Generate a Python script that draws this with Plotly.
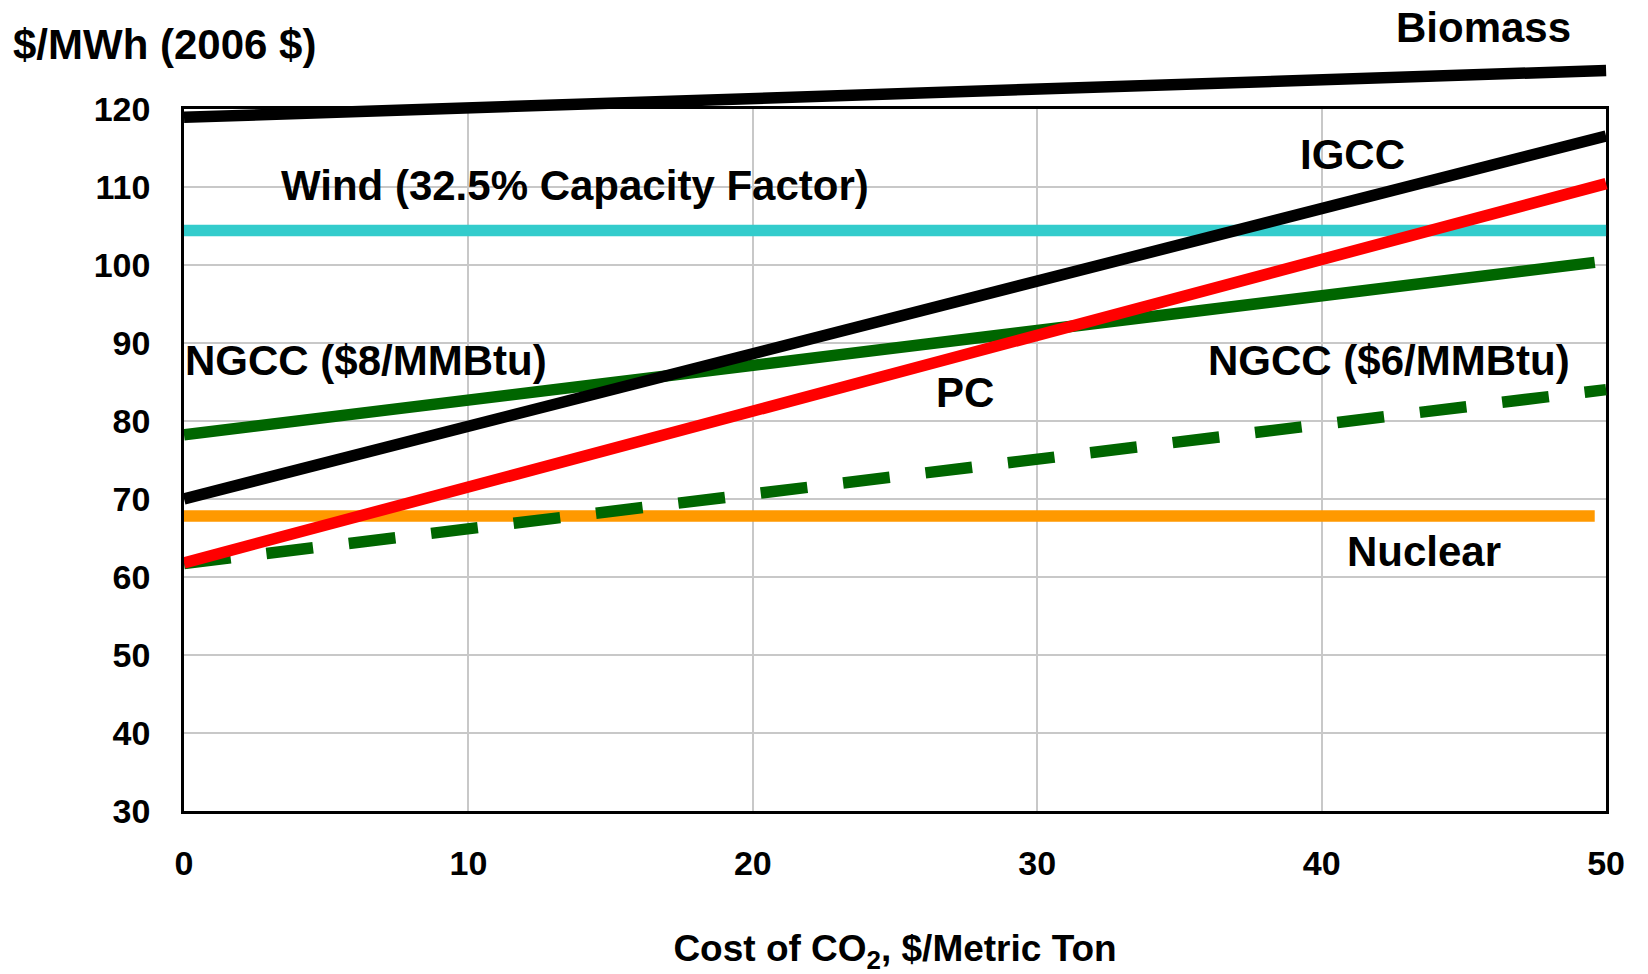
import plotly.graph_objects as go

# ---- data ----
co2_cost = [0, 50]
co2_cost_short = [0, 49.6]
biomass = [118.9, 124.9]
igcc = [70.0, 116.5]
pc = [61.8, 110.4]
wind = [104.4, 104.4]
ngcc_8 = [78.2, 100.3]
ngcc_6 = [61.7, 84.0]
nuclear = [67.8, 67.8]

x_ticks = [0, 10, 20, 30, 40, 50]
y_ticks = [30, 40, 50, 60, 70, 80, 90, 100, 110, 120]

# ---- layout geometry ----
W, H = 1648, 974
L, R, T, B = 184, 18, 58, 158
plot_w = W - L - R
plot_h = H - T - B
frame_w = 1435
frame_h = 707

FONT = "Liberation Sans, Arial, sans-serif"
LW = 11.5

fig = go.Figure()

# empty trace so the framed (grid/tick) subplot is kept
fig.add_trace(go.Scatter(x=[], y=[], xaxis="x", yaxis="y",
                         showlegend=False, hoverinfo="skip"))

def add_line(x, y, color, dash="solid"):
    fig.add_trace(go.Scatter(
        x=x, y=y, mode="lines", xaxis="x2", yaxis="y2",
        line=dict(color=color, width=LW, dash=dash),
        showlegend=False, hoverinfo="skip"))

add_line(co2_cost, wind, "#33CCCC")
add_line(co2_cost_short, nuclear, "#FF9900")
add_line(co2_cost_short, ngcc_8, "#006600")
add_line(co2_cost, ngcc_6, "#006600", dash="47px,36px")
add_line(co2_cost, igcc, "#000000")
add_line(co2_cost, pc, "#FF0000")
add_line(co2_cost, biomass, "#000000")

def px_x(px):
    return (px - L) / plot_w

def px_y(py):
    return (H - B - py) / plot_h

# label text, left/right pixel x, centre pixel y, anchor, size
labels = [
    ("Biomass", 1405, 27.5, "left", 42),
    ("IGCC", 1308, 155, "left", 42),
    ("Wind (32.5% Capacity Factor)", 280, 186, "left", 42),
    ("NGCC ($8/MMBtu)", 183, 363, "left", 42),
    ("NGCC ($6/MMBtu)", 1585, 363, "right", 42),
    ("PC", 941, 395, "left", 42),
    ("Nuclear", 1356, 555, "left", 42),
    ("$/MWh (2006 $)", 9, 44, "left", 42),
]
annotations = []
for text, x, y, anchor, size in labels:
    annotations.append(dict(
        text=text, x=px_x(x), y=px_y(y), xref="paper", yref="paper",
        xanchor=anchor, yanchor="middle", showarrow=False,
        font=dict(family=FONT, size=size, color="black", weight="bold")))

fig.update_layout(
    width=W, height=H,
    margin=dict(l=L, r=R, t=T, b=B, pad=0),
    paper_bgcolor="white",
    plot_bgcolor="rgba(0,0,0,0)",
    showlegend=False,
    annotations=annotations,
    xaxis=dict(
        domain=[0, frame_w / plot_w], range=[0, 50],
        tickvals=x_ticks, ticktext=[str(v) for v in x_ticks],
        showgrid=True, gridcolor="#C8C8C8", gridwidth=1.5,
        zeroline=False, showline=True, linecolor="black", linewidth=2.5,
        mirror=True, ticks="", ticklabelstandoff=20,
        tickfont=dict(family=FONT, size=34, color="black", weight="bold"),
        title=dict(text="Cost of CO<sub>2</sub>, $/Metric Ton",
                   font=dict(family=FONT, size=37, color="black", weight="bold"),
                   standoff=55),
        anchor="y",
    ),
    yaxis=dict(
        domain=[0, frame_h / plot_h], range=[30, 120],
        tickvals=y_ticks, ticktext=[str(v) for v in y_ticks],
        showgrid=True, gridcolor="#C8C8C8", gridwidth=1.5,
        zeroline=False, showline=True, linecolor="black", linewidth=2.5,
        mirror=True, ticks="", ticklabelstandoff=24,
        tickfont=dict(family=FONT, size=34, color="black", weight="bold"),
        anchor="x",
    ),
    xaxis2=dict(
        domain=[0, 1], range=[0, 50 * plot_w / frame_w],
        visible=False, anchor="y2", fixedrange=True,
    ),
    yaxis2=dict(
        domain=[0, 1], range=[30, 30 + 90 * plot_h / frame_h],
        visible=False, anchor="x2", fixedrange=True,
    ),
)

fig.write_html("out.html",
               config={"displayModeBar": False},
               post_script="document.body.style.margin='0';")
